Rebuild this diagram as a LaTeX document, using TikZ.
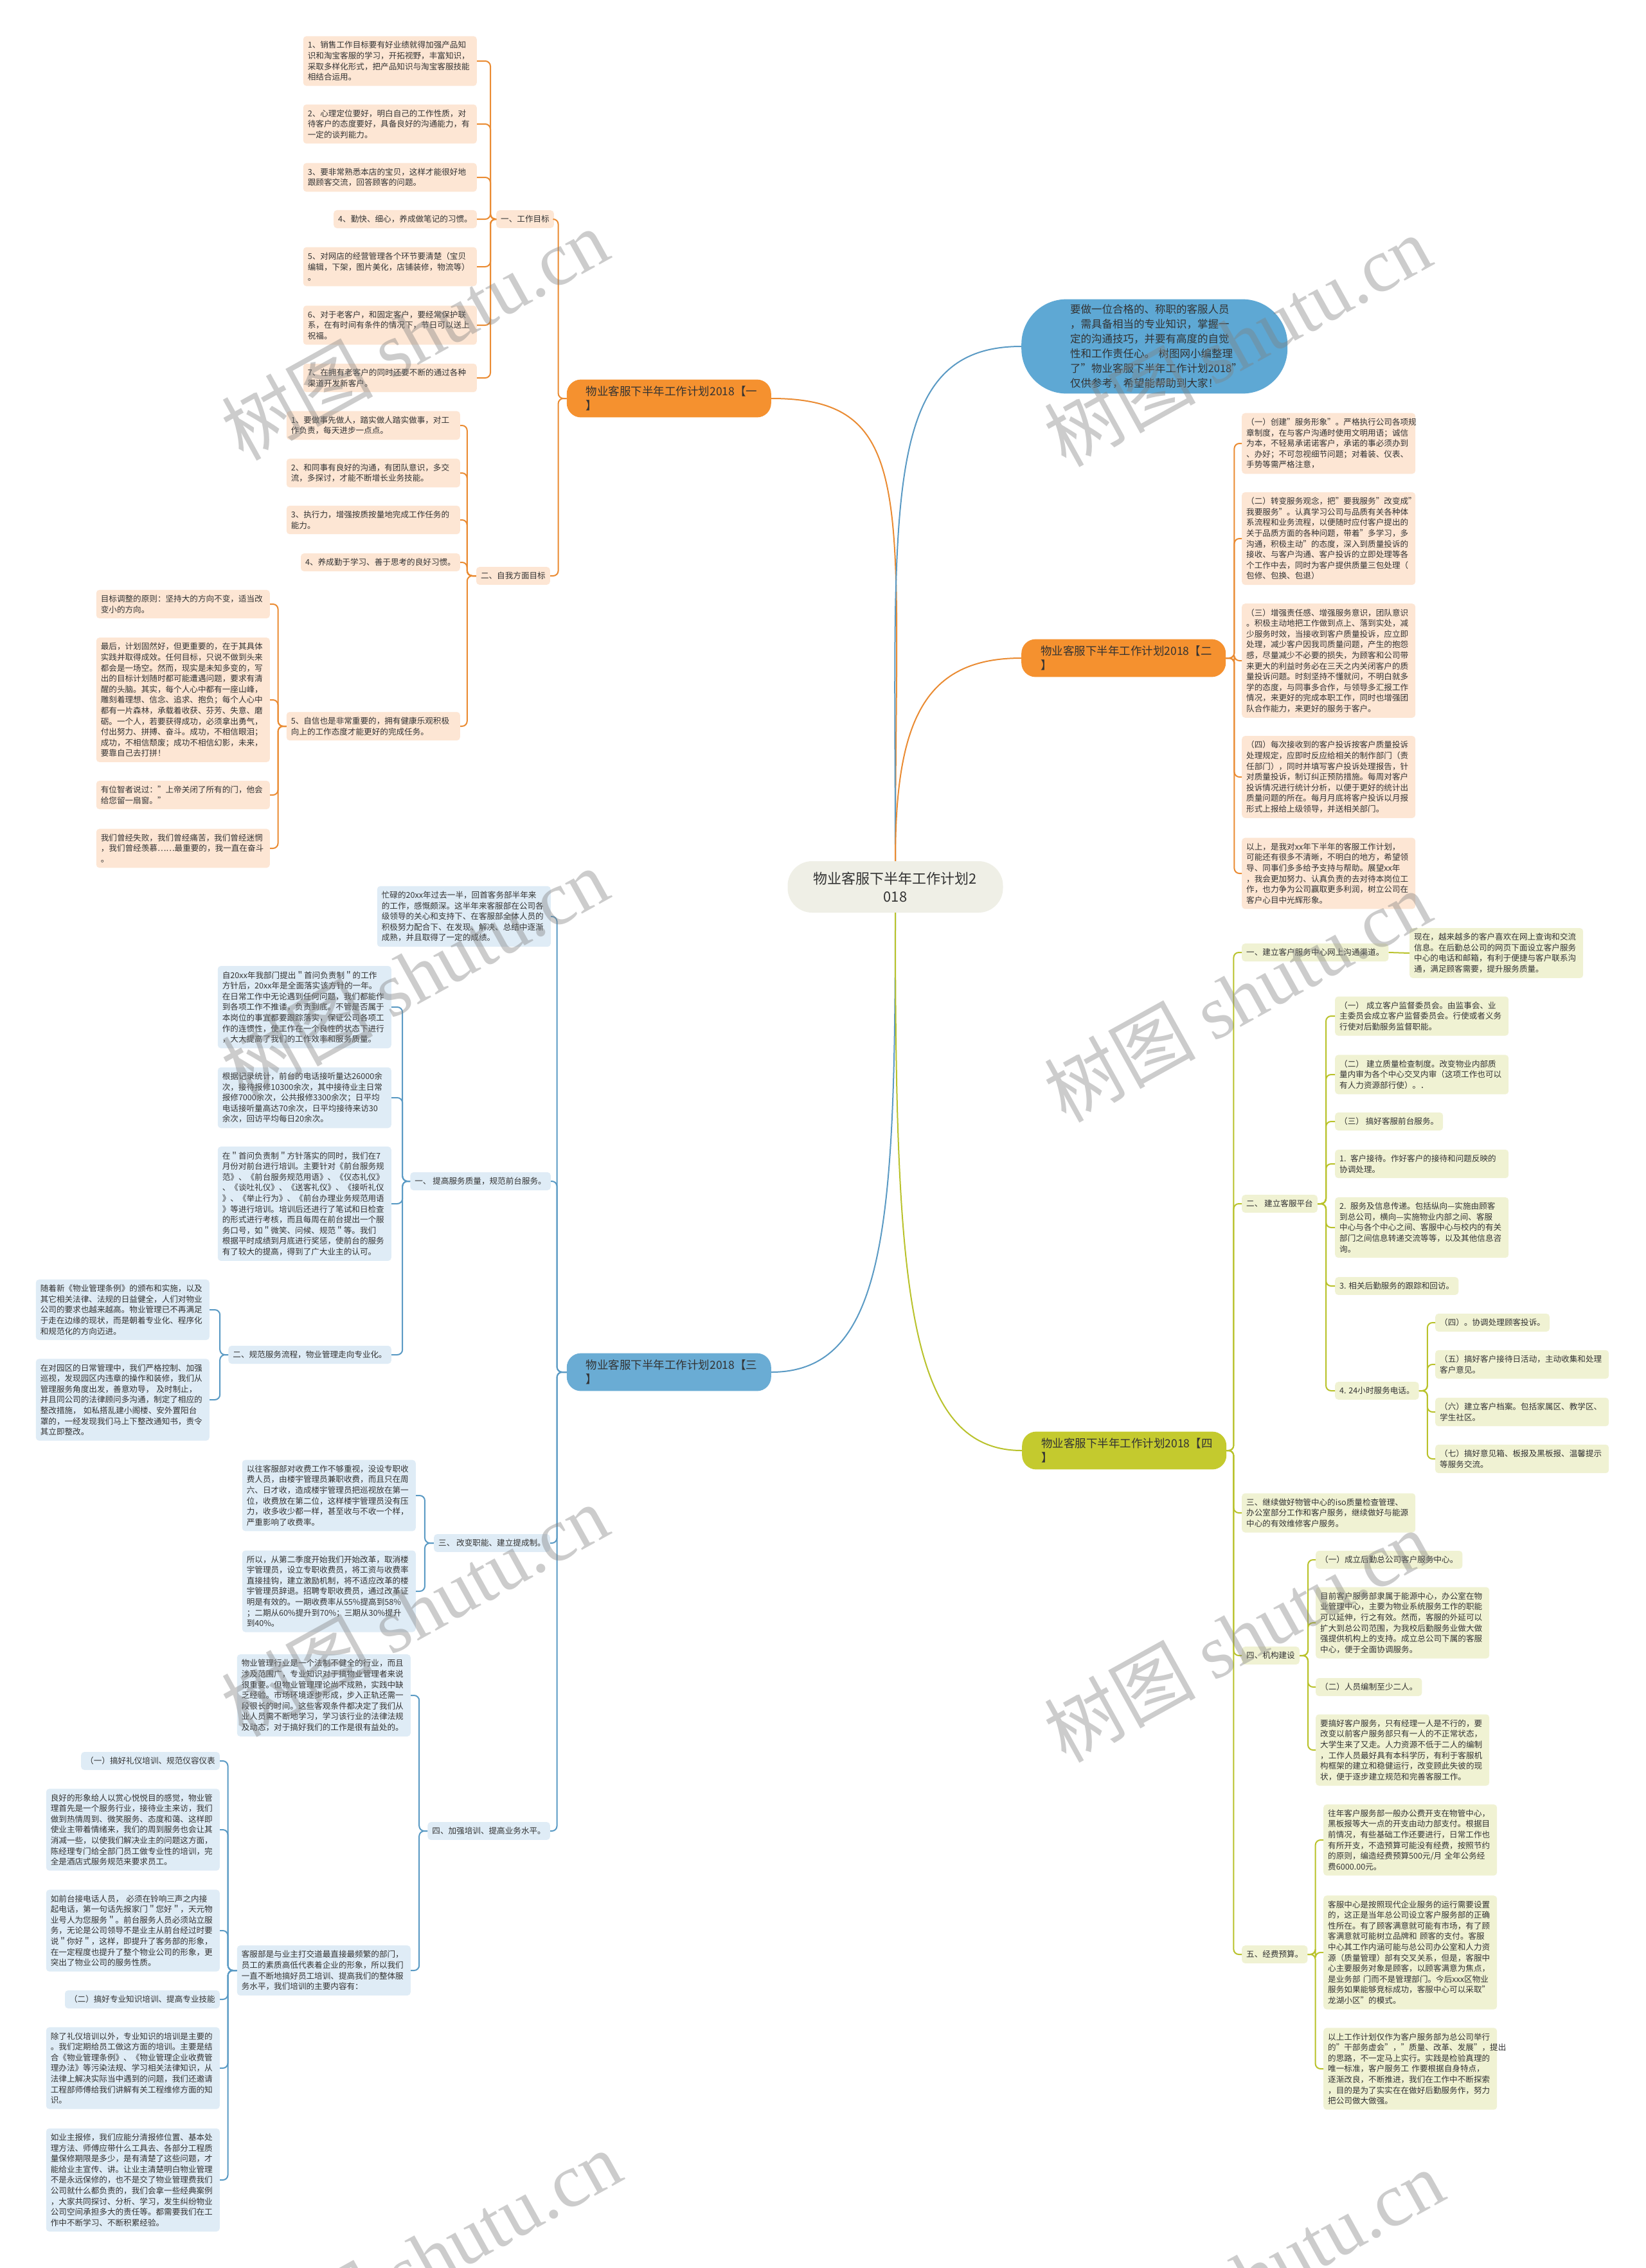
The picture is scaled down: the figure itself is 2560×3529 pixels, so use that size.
\documentclass[tikz,border=0pt]{standalone}
\usepackage{fontspec}
\setmainfont{Noto Sans CJK SC}
\newfontfamily\latinserif{Liberation Serif}
\usepackage{tikz}

\definecolor{txt}{HTML}{333333}
\definecolor{rootfill}{HTML}{EFEFE6}
\definecolor{orfill}{HTML}{F5912F}
\definecolor{orleaf}{HTML}{FDE6D4}
\definecolor{orline}{HTML}{EA8B32}
\definecolor{blbub}{HTML}{5EA8D4}
\definecolor{blfill}{HTML}{6AACD4}
\definecolor{blleaf}{HTML}{DFECF6}
\definecolor{blline}{HTML}{5A9AC4}
\definecolor{yefill}{HTML}{C4CA2E}
\definecolor{yeleaf}{HTML}{F0F2D3}
\definecolor{yeline}{HTML}{B9C22B}

\begin{document}
\begin{tikzpicture}[
        x=1pt, y=-1pt,
        leaf/.style={rounded corners=5pt, inner xsep=7pt, inner ysep=8pt, align=left, text=txt, font=\fontsize{12.6}{16.6}\selectfont},
        wide/.style={text width=256pt},
        leafo/.style={leaf, fill=orleaf},
        leafb/.style={leaf, fill=blleaf},
        leafy/.style={leaf, fill=yeleaf},
        branch/.style={rounded corners=22pt, inner xsep=30pt, inner ysep=10pt, text width=258pt, align=left, text=txt, font=\fontsize{17.5}{22.5}\selectfont},
        root/.style={fill=rootfill, rounded corners=38pt, minimum width=335pt, minimum height=80pt, align=center, text=txt, font=\fontsize{22}{28}\selectfont},
        bubble/.style={fill=blbub, rounded corners=70pt, text width=262pt, inner xsep=76pt, inner ysep=8pt, align=left, text=txt, font=\fontsize{16.5}{23}\selectfont},
        orlink/.style={draw=orline, line width=2pt, rounded corners=8pt},
        bllink/.style={draw=blline, line width=2pt, rounded corners=8pt},
        yelink/.style={draw=yeline, line width=2pt, rounded corners=8pt},
        wmark/.style={rotate=29, text=gray, opacity=0.4, font=\fontsize{118}{118}\selectfont}
    ]
        \fill[white] (0,0) rectangle (2560,3529);
        \useasboundingbox (0,0) rectangle (2560,3529);

        \node[root] (root) at (1393,1380) {物业客服下半年工作计划2\\018};

        % branch one
        \node[branch, fill=orfill, anchor=east] (b1) at (1200,620) {物业客服下半年工作计划2018【一\\】};
        \node[leafo, anchor=east] (w1) at (862,341) {一、工作目标};
        \node[leafo, wide, anchor=east] (l1) at (742,95) {1、销售工作目标要有好业绩就得加强产品知\\识和淘宝客服的学习，开拓视野，丰富知识，\\采取多样化形式，把产品知识与淘宝客服技能\\相结合运用。};
        \node[leafo, wide, anchor=east] (l2) at (742,193) {2、心理定位要好，明白自己的工作性质，对\\待客户的态度要好，具备良好的沟通能力，有\\一定的谈判能力。};
        \node[leafo, wide, anchor=east] (l3) at (742,276) {3、要非常熟悉本店的宝贝，这样才能很好地\\跟顾客交流，回答顾客的问题。};
        \node[leafo, anchor=east] (l4) at (742,341) {4、勤快、细心，养成做笔记的习惯。};
        \node[leafo, wide, anchor=east] (l5) at (742,415) {5、对网店的经营管理各个环节要清楚（宝贝\\编辑，下架，图片美化，店铺装修，物流等）\\。};
        \node[leafo, wide, anchor=east] (l6) at (742,506) {6、对于老客户，和固定客户，要经常保护联\\系，在有时间有条件的情况下，节日可以送上\\祝福。};
        \node[leafo, wide, anchor=east] (l7) at (742,588) {7、在拥有老客户的同时还要不断的通过各种\\渠道开发新客户。};
        \node[leafo, anchor=east] (w2) at (856,896) {二、自我方面目标};
        \node[leafo, wide, anchor=east] (s1) at (716,662) {1、要做事先做人，踏实做人踏实做事，对工\\作负责，每天进步一点点。};
        \node[leafo, wide, anchor=east] (s2) at (716,736) {2、和同事有良好的沟通，有团队意识，多交\\流，多探讨，才能不断增长业务技能。};
        \node[leafo, wide, anchor=east] (s3) at (716,809) {3、执行力，增强按质按量地完成工作任务的\\能力。};
        \node[leafo, anchor=east] (s4) at (716,875) {4、养成勤于学习、善于思考的良好习惯。};
        \node[leafo, wide, anchor=east] (s5) at (716,1130) {5、自信也是非常重要的，拥有健康乐观积极\\向上的工作态度才能更好的完成任务。};
        \node[leafo, wide, anchor=east] (f1) at (420,940) {目标调整的原则：坚持大的方向不变，适当改\\变小的方向。};
        \node[leafo, wide, anchor=east] (f2) at (420,1089) {最后，计划固然好，但更重要的，在于其具体\\实践并取得成效。任何目标，只说不做到头来\\都会是一场空。然而，现实是未知多变的，写\\出的目标计划随时都可能遭遇问题，要求有清\\醒的头脑。其实，每个人心中都有一座山峰，\\雕刻着理想、信念、追求、抱负；每个人心中\\都有一片森林，承载着收获、芬芳、失意、磨\\砺。一个人，若要获得成功，必须拿出勇气，\\付出努力、拼搏、奋斗。成功，不相信眼泪；\\成功，不相信颓废；成功不相信幻影，未来，\\要靠自己去打拼！};
        \node[leafo, wide, anchor=east] (f3) at (420,1237) {有位智者说过："上帝关闭了所有的门，他会\\给您留一扇窗。"};
        \node[leafo, wide, anchor=east] (f4) at (420,1320) {我们曾经失败，我们曾经痛苦，我们曾经迷惘\\，我们曾经羡慕……最重要的，我一直在奋斗\\。};

        % intro and branch two
        \node[bubble, anchor=west] (bub) at (1589,539) {要做一位合格的、称职的客服人员\\，需具备相当的专业知识，掌握一\\定的沟通技巧，并要有高度的自觉\\性和工作责任心。 树图网小编整理\\了"物业客服下半年工作计划2018"\\仅供参考，希望能帮助到大家！};
        \node[branch, fill=orfill, anchor=west] (b2) at (1589,1024) {物业客服下半年工作计划2018【二\\】};
        \node[leafo, wide, anchor=west] (t1) at (1932,690) {（一）创建"服务形象"。严格执行公司各项规\\章制度，在与客户沟通时使用文明用语；诚信\\为本，不轻易承诺诺客户，承诺的事必须办到\\、办好；不可忽视细节问题；对着装、仪表、\\手势等需严格注意，};
        \node[leafo, wide, anchor=west] (t2) at (1932,838) {（二）转变服务观念，把"要我服务"改变成"\\我要服务"。认真学习公司与品质有关各种体\\系流程和业务流程，以便随时应付客户提出的\\关于品质方面的各种问题，带着"多学习，多\\沟通，积极主动"的态度，深入到质量投诉的\\接收、与客户沟通、客户投诉的立即处理等各\\个工作中去，同时为客户提供质量三包处理（\\包修、包换、包退）};
        \node[leafo, wide, anchor=west] (t3) at (1932,1028) {（三）增强责任感、增强服务意识，团队意识\\。积极主动地把工作做到点上、落到实处，减\\少服务时效，当接收到客户质量投诉，应立即\\处理，减少客户因我司质量问题，产生的抱怨\\感，尽量减少不必要的损失，为顾客和公司带\\来更大的利益时务必在三天之内关闭客户的质\\量投诉问题。时刻坚持不懂就问，不明白就多\\学的态度，与同事多合作，与领导多汇报工作\\情况，来更好的完成本职工作，同时也增强团\\队合作能力，来更好的服务于客户。};
        \node[leafo, wide, anchor=west] (t4) at (1932,1209) {（四）每次接收到的客户投诉按客户质量投诉\\处理规定，应即时反应给相关的制作部门（责\\任部门），同时并填写客户投诉处理报告，针\\对质量投诉，制订纠正预防措施。每周对客户\\投诉情况进行统计分析，以便于更好的统计出\\质量问题的所在。每月月底将客户投诉以月报\\形式上报给上级领导，并送相关部门。};
        \node[leafo, wide, anchor=west] (t5) at (1932,1359) {以上，是我对xx年下半年的客服工作计划，\\可能还有很多不清晰，不明白的地方，希望领\\导、同事们多多给予支持与帮助。展望xx年\\，我会更加努力、认真负责的去对待本岗位工\\作，也力争为公司赢取更多利润，树立公司在\\客户心目中光辉形象。};

        % branch three
        \node[branch, fill=blfill, anchor=east] (b3) at (1200,2135) {物业客服下半年工作计划2018【三\\】};
        \node[leafb, wide, anchor=east] (k0) at (857,1426) {忙碌的20xx年过去一半，回首客务部半年来\\的工作，感慨颇深。这半年来客服部在公司各\\级领导的关心和支持下、在客服部全体人员的\\积极努力配合下、在发现、解决、总结中逐渐\\成熟，并且取得了一定的成绩。};
        \node[leafb, anchor=east] (k1) at (857,1838) {一、 提高服务质量，规范前台服务。};
        \node[leafb, wide, anchor=east] (k1a) at (609,1567) {自20xx年我部门提出＂首问负责制＂的工作\\方针后，20xx年是全面落实该方针的一年。\\在日常工作中无论遇到任何问题，我们都能作\\到各项工作不推诿，负责到底。不管是否属于\\本岗位的事宜都要跟踪落实，保证公司各项工\\作的连惯性，使工作在一个良性的状态下进行\\，大大提高了我们的工作效率和服务质量。};
        \node[leafb, wide, anchor=east] (k1b) at (609,1708) {根据记录统计，前台的电话接听量达26000余\\次，接待报修10300余次，其中接待业主日常\\报修7000余次，公共报修3300余次；日平均\\电话接听量高达70余次，日平均接待来访30\\余次，回访平均每日20余次。};
        \node[leafb, wide, anchor=east] (k1c) at (609,1873) {在＂首问负责制＂方针落实的同时，我们在7\\月份对前台进行培训。主要针对《前台服务规\\范》、《前台服务规范用语》、《仪态礼仪》\\、《谈吐礼仪》、《送客礼仪》、《接听礼仪\\》、《举止行为》、《前台办理业务规范用语\\》等进行培训。培训后还进行了笔试和日检查\\的形式进行考核，而且每周在前台提出一个服\\务口号，如＂微笑、问候、规范＂等。我们\\根据平时成绩到月底进行奖惩，使前台的服务\\有了较大的提高，得到了广大业主的认可。};
        \node[leafb, anchor=east] (k2) at (609,2108) {二、规范服务流程，物业管理走向专业化。};
        \node[leafb, wide, anchor=east] (k2a) at (326,2038) {随着新《物业管理条例》的颁布和实施，以及\\其它相关法律、法规的日益健全，人们对物业\\公司的要求也越来越高。物业管理已不再满足\\于走在边缘的现状，而是朝着专业化、程序化\\和规范化的方向迈进。};
        \node[leafb, wide, anchor=east] (k2b) at (326,2178) {在对园区的日常管理中，我们严格控制、加强\\巡视，发现园区内违章的操作和装修，我们从\\管理服务角度出发，善意劝导， 及时制止，\\并且同公司的法律顾问多沟通，制定了相应的\\整改措施， 如私搭乱建小阁楼、安外置阳台\\罩的，一经发现我们马上下整改通知书，责令\\其立即整改。};
        \node[leafb, anchor=east] (k3) at (856,2401) {三、 改变职能、建立提成制。};
        \node[leafb, wide, anchor=east] (k3a) at (647,2327) {以往客服部对收费工作不够重视，没设专职收\\费人员，由楼宇管理员兼职收费，而且只在周\\六、日才收，造成楼宇管理员把巡视放在第一\\位，收费放在第二位，这样楼宇管理员没有压\\力，收多收少都一样，甚至收与不收一个样，\\严重影响了收费率。};
        \node[leafb, wide, anchor=east] (k3b) at (647,2476) {所以，从第二季度开始我们开始改革，取消楼\\宇管理员，设立专职收费员，将工资与收费率\\直接挂钩，建立激励机制，将不适应改革的楼\\宇管理员辞退。招聘专职收费员，通过改革证\\明是有效的。一期收费率从55\%提高到58\%\\；二期从60\%提升到70\%；三期从30\%提升\\到40\%。};
        \node[leafb, anchor=east] (k4) at (856,2849) {四、加强培训、提高业务水平。};
        \node[leafb, wide, anchor=east] (k4a) at (639,2638) {物业管理行业是一个法制不健全的行业，而且\\涉及范围广，专业知识对于搞物业管理者来说\\很重要。但物业管理理论尚不成熟，实践中缺\\乏经验。市场环境逐步形成，步入正轨还需一\\段很长的时间。这些客观条件都决定了我们从\\业人员需不断地学习，学习该行业的法律法规\\及动态，对于搞好我们的工作是很有益处的。};
        \node[leafb, wide, anchor=east] (k4b) at (639,3066) {客服部是与业主打交道最直接最频繁的部门，\\员工的素质高低代表着企业的形象，所以我们\\一直不断地搞好员工培训、提高我们的整体服\\务水平，我们培训的主要内容有：};
        \node[leafb, anchor=east] (c1) at (342,2740) {（一）搞好礼仪培训、规范仪容仪表};
        \node[leafb, wide, anchor=east] (c2) at (342,2847) {良好的形象给人以赏心悦悦目的感觉，物业管\\理首先是一个服务行业，接待业主来访，我们\\做到热情周到、微笑服务、态度和蔼、这样即\\使业主带着情绪来，我们的周到服务也会让其\\消减一些，以使我们解决业主的问题这方面，\\陈经理专门给全部门员工做专业性的培训，完\\全是酒店式服务规范来要求员工。};
        \node[leafb, wide, anchor=east] (c3) at (342,3004) {如前台接电话人员， 必须在铃响三声之内接\\起电话，第一句话先报家门＂您好＂，天元物\\业号人为您服务＂。前台服务人员必须站立服\\务，无论是公司领导不是业主从前台经过时要\\说＂你好＂，这样，即提升了客务部的形象，\\在一定程度也提升了整个物业公司的形象，更\\突出了物业公司的服务性质。};
        \node[leafb, anchor=east] (c4) at (342,3111) {（二）搞好专业知识培训、提高专业技能};
        \node[leafb, wide, anchor=east] (c5) at (342,3218) {除了礼仪培训以外，专业知识的培训是主要的\\。我们定期给员工做这方面的培训。主要是结\\合《物业管理条例》、《物业管理企业收费管\\理办法》等污染法规、学习相关法律知识，从\\法律上解决实际当中遇到的问题，我们还邀请\\工程部师傅给我们讲解有关工程维修方面的知\\识。};
        \node[leafb, wide, anchor=east] (c6) at (342,3392) {如业主报修，我们应能分清报修位置、基本处\\理方法、师傅应带什么工具去、各部分工程质\\量保修期限是多少，是有清楚了这些问题，才\\能给业主宣传、讲。让业主清楚明白物业管理\\不是永远保修的，也不是交了物业管理费我们\\公司就什么都负责的，我们会拿一些经典案例\\，大家共同探讨、分析、学习，发生纠纷物业\\公司空间承担多大的责任等。都需要我们在工\\作中不断学习、不断积累经验。};

        % branch four
        \node[branch, fill=yefill, anchor=west] (b4) at (1590,2257) {物业客服下半年工作计划2018【四\\】};
        \node[leafy, anchor=west] (y1) at (1932,1482) {一、建立客户服务中心网上沟通渠道。};
        \node[leafy, wide, anchor=west] (y1a) at (2193,1483) {现在，越来越多的客户喜欢在网上查询和交流\\信息。在后勤总公司的网页下面设立客户服务\\中心的电话和邮箱，有利于便捷与客户联系沟\\通，满足顾客需要，提升服务质量。};
        \node[leafy, anchor=west] (y2) at (1932,1873) {二、 建立客服平台};
        \node[leafy, wide, anchor=west] (y2a) at (2077,1581) {（一） 成立客户监督委员会。由监事会、业\\主委员会成立客户监督委员会。行使或者义务\\行使对后勤服务监督职能。};
        \node[leafy, wide, anchor=west] (y2b) at (2077,1672) {（二） 建立质量检查制度。改变物业内部质\\量内审为各个中心交叉内审（这项工作也可以\\有人力资源部行使）。．};
        \node[leafy, anchor=west] (y2c) at (2077,1745) {（三） 搞好客服前台服务。};
        \node[leafy, wide, anchor=west] (y2d) at (2077,1811) {1. 客户接待。作好客户的接待和问题反映的\\协调处理。};
        \node[leafy, wide, anchor=west] (y2e) at (2077,1910) {2. 服务及信息传递。包括纵向—实施由顾客\\到总公司，横向—实施物业内部之间、客服\\中心与各个中心之间、客服中心与校内的有关\\部门之间信息转递交流等等，以及其他信息咨\\询。};
        \node[leafy, anchor=west] (y2f) at (2077,2001) {3. 相关后勤服务的跟踪和回访。};
        \node[leafy, anchor=west] (y2g) at (2077,2164) {4. 24小时服务电话。};
        \node[leafy, anchor=west] (g1) at (2233,2058) {（四）。协调处理顾客投诉。};
        \node[leafy, wide, anchor=west] (g2) at (2233,2123) {（五）搞好客户接待日活动，主动收集和处理\\客户意见。};
        \node[leafy, wide, anchor=west] (g3) at (2233,2197) {（六）建立客户档案。包括家属区、教学区、\\学生社区。};
        \node[leafy, wide, anchor=west] (g4) at (2233,2270) {（七）搞好意见箱、板报及黑板报、温馨提示\\等服务交流。};
        \node[leafy, wide, anchor=west] (y3) at (1932,2354) {三、继续做好物管中心的iso质量检查管理、\\办公室部分工作和客户服务，继续做好与能源\\中心的有效维修客户服务。};
        \node[leafy, anchor=west] (y4) at (1932,2576) {四、机构建设};
        \node[leafy, anchor=west] (y4a) at (2047,2427) {（一）成立后勤总公司客户服务中心。};
        \node[leafy, wide, anchor=west] (y4b) at (2047,2525) {目前客户服务部隶属于能源中心，办公室在物\\业管理中心，主要为物业系统服务工作的职能\\可以延伸，行之有效。然而，客服的外延可以\\扩大到总公司范围，为我校后勤服务业做大做\\强提供机构上的支持。成立总公司下属的客服\\中心，便于全面协调服务。};
        \node[leafy, anchor=west] (y4c) at (2047,2625) {（二）人员编制至少二人。};
        \node[leafy, wide, anchor=west] (y4d) at (2047,2723) {要搞好客户服务，只有经理一人是不行的，要\\改变以前客户服务部只有一人的不正常状态，\\大学生来了又走。人力资源不低于二人的编制\\，工作人员最好具有本科学历，有利于客服机\\构框架的建立和稳健运行，改变顾此失彼的现\\状，便于逐步建立规范和完善客服工作。};
        \node[leafy, anchor=west] (y5) at (1932,3041) {五、经费预算。};
        \node[leafy, wide, anchor=west] (y5a) at (2059,2863) {往年客户服务部一般办公费开支在物管中心，\\黑板报等大一点的开支由动力部支付。根据目\\前情况，有些基础工作还要进行，日常工作也\\有所开支，不造预算可能没有经费，按照节约\\的原则，编造经费预算500元/月 全年公务经\\费6000.00元。};
        \node[leafy, wide, anchor=west] (y5b) at (2059,3038) {客服中心是按照现代企业服务的运行需要设置\\的，这正是当年总公司设立客户服务部的正确\\性所在。有了顾客满意就可能有市场，有了顾\\客满意就可能树立品牌和 顾客的支付。客服\\中心其工作内涵可能与总公司办公室和人力资\\源（质量管理）部有交叉关系，但是，客服中\\心主要服务对象是顾客，以顾客满意为焦点，\\是业务部 门而不是管理部门。今后xxx区物业\\服务如果能够竞标成功，客服中心可以采取"\\龙湖小区"的模式。};
        \node[leafy, wide, anchor=west] (y5c) at (2059,3219) {以上工作计划仅作为客户服务部为总公司举行\\的"干部务虚会"，"质量、改革、发展"，提出\\的思路，不一定马上实行。实践是检验真理的\\唯一标准，客户服务工 作要根据自身特点，\\逐渐改良，不断推进，我们在工作中不断探索\\，目的是为了实实在在做好后勤服务作，努力\\把公司做大做强。};

        % links from the root
        \draw[orlink] (root.north) .. controls +(0,-560) and +(230,0) .. (b1.east);
        \draw[bllink] (root.north) .. controls +(0,-560) and +(-220,0) .. (bub.west);
        \draw[orlink] (root.north) .. controls +(0,-220) and +(-150,0) .. (b2.west);
        \draw[bllink] (root.south) .. controls +(0,480) and +(180,0) .. (b3.east);
        \draw[yelink] (root.south) .. controls +(0,580) and +(-180,0) .. (b4.west);

        \draw[orlink] (b1.west) -- ++(-13,0) |- (w1.east);
        \draw[orlink] (b1.west) -- ++(-13,0) |- (w2.east);
        \draw[orlink] (w1.west) -- ++(-9,0) |- (l1.east);
        \draw[orlink] (w1.west) -- ++(-9,0) |- (l2.east);
        \draw[orlink] (w1.west) -- ++(-9,0) |- (l3.east);
        \draw[orlink] (w1.west) -- ++(-9,0) |- (l4.east);
        \draw[orlink] (w1.west) -- ++(-9,0) |- (l5.east);
        \draw[orlink] (w1.west) -- ++(-9,0) |- (l6.east);
        \draw[orlink] (w1.west) -- ++(-9,0) |- (l7.east);
        \draw[orlink] (w2.west) -- ++(-14,0) |- (s1.east);
        \draw[orlink] (w2.west) -- ++(-14,0) |- (s2.east);
        \draw[orlink] (w2.west) -- ++(-14,0) |- (s3.east);
        \draw[orlink] (w2.west) -- ++(-14,0) |- (s4.east);
        \draw[orlink] (w2.west) -- ++(-14,0) |- (s5.east);
        \draw[orlink] (s5.west) -- ++(-13,0) |- (f1.east);
        \draw[orlink] (s5.west) -- ++(-13,0) |- (f2.east);
        \draw[orlink] (s5.west) -- ++(-13,0) |- (f3.east);
        \draw[orlink] (s5.west) -- ++(-13,0) |- (f4.east);

        \draw[orlink] (b2.east) -- ++(13,0) |- (t1.west);
        \draw[orlink] (b2.east) -- ++(13,0) |- (t2.west);
        \draw[orlink] (b2.east) -- ++(13,0) |- (t3.west);
        \draw[orlink] (b2.east) -- ++(13,0) |- (t4.west);
        \draw[orlink] (b2.east) -- ++(13,0) |- (t5.west);

        \draw[bllink] (b3.west) -- ++(-15,0) |- (k0.east);
        \draw[bllink] (b3.west) -- ++(-15,0) |- (k1.east);
        \draw[bllink] (b3.west) -- ++(-15,0) |- (k3.east);
        \draw[bllink] (b3.west) -- ++(-15,0) |- (k4.east);
        \draw[bllink] (k1.west) -- ++(-12,0) |- (k1a.east);
        \draw[bllink] (k1.west) -- ++(-12,0) |- (k1b.east);
        \draw[bllink] (k1.west) -- ++(-12,0) |- (k1c.east);
        \draw[bllink] (k1.west) -- ++(-12,0) |- (k2.east);
        \draw[bllink] (k2.west) -- ++(-13,0) |- (k2a.east);
        \draw[bllink] (k2.west) -- ++(-13,0) |- (k2b.east);
        \draw[bllink] (k3.west) -- ++(-14,0) |- (k3a.east);
        \draw[bllink] (k3.west) -- ++(-14,0) |- (k3b.east);
        \draw[bllink] (k4.west) -- ++(-13,0) |- (k4a.east);
        \draw[bllink] (k4.west) -- ++(-13,0) |- (k4b.east);
        \draw[bllink] (k4b.west) -- ++(-14,0) |- (c1.east);
        \draw[bllink] (k4b.west) -- ++(-14,0) |- (c2.east);
        \draw[bllink] (k4b.west) -- ++(-14,0) |- (c3.east);
        \draw[bllink] (k4b.west) -- ++(-14,0) |- (c4.east);
        \draw[bllink] (k4b.west) -- ++(-14,0) |- (c5.east);
        \draw[bllink] (k4b.west) -- ++(-14,0) |- (c6.east);

        \draw[yelink] (b4.east) -- ++(11,0) |- (y1.west);
        \draw[yelink] (b4.east) -- ++(11,0) |- (y2.west);
        \draw[yelink] (b4.east) -- ++(11,0) |- (y3.west);
        \draw[yelink] (b4.east) -- ++(11,0) |- (y4.west);
        \draw[yelink] (b4.east) -- ++(11,0) |- (y5.west);
        \draw[yelink] (y1.east) -- (y1a.west);
        \draw[yelink] (y2.east) -- ++(13,0) |- (y2a.west);
        \draw[yelink] (y2.east) -- ++(13,0) |- (y2b.west);
        \draw[yelink] (y2.east) -- ++(13,0) |- (y2c.west);
        \draw[yelink] (y2.east) -- ++(13,0) |- (y2d.west);
        \draw[yelink] (y2.east) -- ++(13,0) |- (y2e.west);
        \draw[yelink] (y2.east) -- ++(13,0) |- (y2f.west);
        \draw[yelink] (y2.east) -- ++(13,0) |- (y2g.west);
        \draw[yelink] (y2g.east) -- ++(13,0) |- (g1.west);
        \draw[yelink] (y2g.east) -- ++(13,0) |- (g2.west);
        \draw[yelink] (y2g.east) -- ++(13,0) |- (g3.west);
        \draw[yelink] (y2g.east) -- ++(13,0) |- (g4.west);
        \draw[yelink] (y4.east) -- ++(13,0) |- (y4a.west);
        \draw[yelink] (y4.east) -- ++(13,0) |- (y4b.west);
        \draw[yelink] (y4.east) -- ++(13,0) |- (y4c.west);
        \draw[yelink] (y4.east) -- ++(13,0) |- (y4d.west);
        \draw[yelink] (y5.east) -- ++(12,0) |- (y5a.west);
        \draw[yelink] (y5.east) -- ++(12,0) |- (y5b.west);
        \draw[yelink] (y5.east) -- ++(12,0) |- (y5c.west);

        % watermarks
        \node[wmark] (wm1) at (645,520) {树图 {\latinserif shutu.cn}};
        \node[wmark] (wm2) at (1925,530) {树图 {\latinserif shutu.cn}};
        \node[wmark] (wm3) at (645,1515) {树图 {\latinserif shutu.cn}};
        \node[wmark] (wm4) at (1925,1550) {树图 {\latinserif shutu.cn}};
        \node[wmark] (wm5) at (645,2505) {树图 {\latinserif shutu.cn}};
        \node[wmark] (wm6) at (1925,2545) {树图 {\latinserif shutu.cn}};
        \node[wmark] (wm7) at (665,3510) {树图 {\latinserif shutu.cn}};
        \node[wmark] (wm8) at (1945,3540) {树图 {\latinserif shutu.cn}};
    \end{tikzpicture}
\end{document}
